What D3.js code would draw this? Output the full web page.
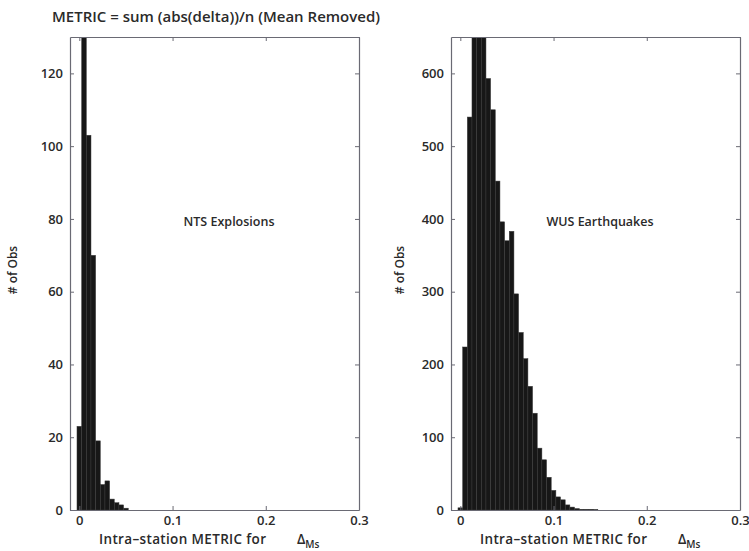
<!DOCTYPE html>
<html>
<head>
<meta charset="utf-8">
<script src="https://cdn.jsdelivr.net/npm/d3@7"></script>
<style>
  html, body { margin: 0; padding: 0; background: #fff; }
  svg { display: block; }
  text { font-family: "Open Sans", "Lato", sans-serif; fill: #2a2a2a; font-weight: 600; }
</style>
</head>
<body>
<svg id="chart" width="749" height="551"></svg>
<script>
// ---- data ----
const titleText = "METRIC = sum (abs(delta))/n (Mean Removed)";
const xTickValues = [0, 0.1, 0.2, 0.3];
const xTickLabels = ["0", "0.1", "0.2", "0.3"];

const ntsBinCenters = [0, 0.005, 0.01, 0.015, 0.02, 0.025, 0.03, 0.035, 0.04, 0.045, 0.05];
const ntsCounts     = [23, 150, 103, 70, 19, 7, 8, 3, 2, 1.4, 0.5];
const ntsYTicks     = [0, 20, 40, 60, 80, 100, 120];

const wusBinCenters = [0, 0.005, 0.01, 0.015, 0.02, 0.025, 0.03, 0.035, 0.04, 0.045,
                       0.05, 0.055, 0.06, 0.065, 0.07, 0.075, 0.08, 0.085, 0.09, 0.095,
                       0.1, 0.105, 0.11, 0.115, 0.12, 0.125, 0.13, 0.135, 0.14, 0.145];
const wusCounts     = [3, 224, 540, 700, 720, 680, 593, 550, 452, 396,
                       370, 383, 297, 244, 208, 170, 133, 85, 69, 45,
                       27, 18, 14, 7, 4, 2, 1, 1, 1, 0.5];
const wusYTicks     = [0, 100, 200, 300, 400, 500, 600];

const binWidth = 0.005;

const panels = [
  { left: 70, right: 359, yMax: 130, centers: ntsBinCenters, counts: ntsCounts, yTicks: ntsYTicks,
    label: "NTS Explosions", labelX: 229, yTitleX: 17 },
  { left: 451, right: 740, yMax: 650, centers: wusBinCenters, counts: wusCounts, yTicks: wusYTicks,
    label: "WUS Earthquakes", labelX: 600, yTitleX: 404 }
];

const plotTop = 37, plotBottom = 510;
const svg = d3.select("#chart");

svg.append("text")
  .attr("x", 52).attr("y", 22)
  .attr("font-size", 14)
  .attr("textLength", 328).attr("lengthAdjust", "spacingAndGlyphs")
  .text(titleText);

panels.forEach((p, i) => {
  const x = d3.scaleLinear().domain([-0.01, 0.3]).range([p.left, p.right]);
  const y = d3.scaleLinear().domain([0, p.yMax]).range([plotBottom, plotTop]);
  const g = svg.append("g");

  const clipId = "clip" + i;
  svg.append("clipPath").attr("id", clipId)
    .append("rect").attr("x", p.left).attr("y", plotTop)
    .attr("width", p.right - p.left).attr("height", plotBottom - plotTop);

  // bars
  g.append("g").attr("clip-path", `url(#${clipId})`)
    .selectAll("rect")
    .data(p.centers.map((c, j) => ({ c, v: p.counts[j] })))
    .join("rect")
    .attr("x", d => x(d.c - binWidth / 2))
    .attr("width", d => x(d.c + binWidth / 2) - x(d.c - binWidth / 2))
    .attr("y", d => y(d.v))
    .attr("height", d => plotBottom - y(d.v))
    .attr("fill", "#171717")
    .attr("stroke", "#3a3a3a")
    .attr("stroke-width", 0.5);

  // axes (ticks inward)
  const axB = d3.axisBottom(x).tickValues(xTickValues).tickFormat((d, k) => xTickLabels[k])
    .tickSizeInner(-4).tickSizeOuter(0).tickPadding(6);
  const axT = d3.axisTop(x).tickValues(xTickValues).tickFormat("")
    .tickSizeInner(-4).tickSizeOuter(0);
  const axL = d3.axisLeft(y).tickValues(p.yTicks).tickFormat(d3.format("d"))
    .tickSizeInner(-4).tickSizeOuter(0).tickPadding(7);
  const axR = d3.axisRight(y).tickValues(p.yTicks).tickFormat("")
    .tickSizeInner(-4).tickSizeOuter(0);

  const gB = g.append("g").attr("transform", `translate(0,${plotBottom})`).call(axB);
  const gT = g.append("g").attr("transform", `translate(0,${plotTop})`).call(axT);
  const gL = g.append("g").attr("transform", `translate(${p.left},0)`).call(axL);
  const gR = g.append("g").attr("transform", `translate(${p.right},0)`).call(axR);
  [gB, gT, gL, gR].forEach(a => {
    a.selectAll("path").attr("stroke", "#6a6a74").attr("stroke-width", 1.2);
    a.selectAll("line").attr("stroke", "#6a6a74");
    a.selectAll("text").attr("font-size", 13).attr("font-family", "Open Sans, sans-serif")
      .attr("font-weight", 600).attr("fill", "#2a2a2a");
  });

  // in-plot label
  g.append("text").attr("x", p.labelX).attr("y", 226)
    .attr("text-anchor", "middle").attr("font-size", 12.5).text(p.label);

  // y title
  g.append("text")
    .attr("transform", `translate(${p.yTitleX},270) rotate(-90)`)
    .attr("text-anchor", "middle").attr("font-size", 12).text("# of Obs");

  // x title
  const xt = g.append("text").attr("x", p.left + 29).attr("y", 544).attr("font-size", 13.5);
  xt.append("tspan").attr("textLength", 167).attr("lengthAdjust", "spacing")
    .text("Intra\u2013station METRIC for");
  xt.append("tspan").attr("x", p.left + 227).text("\u0394");
  xt.append("tspan").attr("dy", 4).attr("font-size", 10).text("Ms");
});
</script>
</body>
</html>
